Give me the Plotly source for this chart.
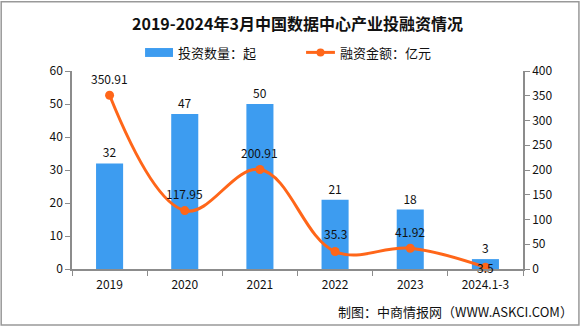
import plotly.graph_objects as go

categories = ["2019", "2020", "2021", "2022", "2023", "2024.1-3"]
deal_counts = [32, 47, 50, 21, 18, 3]
financing = [350.91, 117.95, 200.91, 35.3, 41.92, 3.5]
financing_labels = ["350.91", "117.95", "200.91", "35.3", "41.92", "3.5"]
left_ticks = [0, 10, 20, 30, 40, 50, 60]
right_ticks = [0, 50, 100, 150, 200, 250, 300, 350, 400]
bar_name = "投资数量：起"
line_name = "融资金额：亿元"

# label offsets in px (style, not data)
line_label_shift = [17, 17, 17, 18, 17, 0]

FONT = "Noto Sans CJK SC, DejaVu Sans, sans-serif"
BAR_C = "#3D9CF0"
LINE_C = "#FF6619"
AX_C = "#8c8c8c"

fig = go.Figure()
fig.add_trace(go.Bar(
    x=categories, y=deal_counts, name=bar_name,
    marker=dict(color=BAR_C, line=dict(width=0)), width=0.36,
    text=[str(v) for v in deal_counts], textposition="outside",
    textfont=dict(size=12, color="#111", family=FONT), cliponaxis=False,
))
fig.add_trace(go.Scatter(
    x=categories, y=financing, name=line_name, yaxis="y2",
    mode="lines+markers",
    line=dict(color=LINE_C, width=3, shape="spline", smoothing=1.1),
    marker=dict(color=LINE_C, size=9),
    cliponaxis=False,
))

for i, (v, lab, s) in enumerate(zip(financing, financing_labels, line_label_shift)):
    fig.add_annotation(x=i, y=v, xref="x", yref="y2", text=lab, showarrow=False,
                       yshift=s, font=dict(size=12, color="#111", family=FONT))

fig.add_annotation(text="<b>2019-2024年3月中国数据中心产业投融资情况</b>",
                   xref="paper", yref="paper", x=0.499, y=1.242, showarrow=False,
                   xanchor="center", yanchor="middle",
                   font=dict(size=16, color="#111", family=FONT))
fig.add_annotation(text="制图：中商情报网（WWW.ASKCI.COM）",
                   xref="paper", yref="paper", x=1.115, y=-0.217, showarrow=False,
                   xanchor="right", yanchor="middle",
                   font=dict(size=13, color="#111", family=FONT))

# manual legend
fig.add_shape(type="rect", xref="paper", yref="paper",
              x0=0.162, x1=0.224, y0=1.071, y1=1.116,
              fillcolor=BAR_C, line=dict(width=0))
fig.add_annotation(text=bar_name, xref="paper", yref="paper", x=0.231, y=1.094,
                   xanchor="left", yanchor="middle", showarrow=False,
                   font=dict(size=13, color="#111", family=FONT))
fig.add_shape(type="line", xref="paper", yref="paper",
              x0=0.519, x1=0.583, y0=1.094, y1=1.094,
              line=dict(color=LINE_C, width=3))
fig.add_shape(type="circle", xref="paper", yref="paper",
              x0=0.551 - 4 / 451, x1=0.551 + 4 / 451,
              y0=1.094 - 4 / 198, y1=1.094 + 4 / 198,
              fillcolor=LINE_C, line=dict(width=0))
fig.add_annotation(text=line_name, xref="paper", yref="paper", x=0.590, y=1.094,
                   xanchor="left", yanchor="middle", showarrow=False,
                   font=dict(size=13, color="#111", family=FONT))

fig.add_shape(type="rect", xref="paper", yref="paper",
              x0=-0.157, x1=1.124, y0=-0.283, y1=1.35,
              line=dict(color="#999", width=1.5), layer="below")

fig.update_layout(
    width=586, height=327,
    margin=dict(l=72, r=63, t=71, b=58),
    paper_bgcolor="white", plot_bgcolor="white",
    font=dict(family=FONT, size=12, color="#111"),
    showlegend=False,
    xaxis=dict(type="category", range=[-0.5, len(categories) - 0.5], showline=True,
               linecolor=AX_C, linewidth=1.5, ticks="outside",
               tickcolor=AX_C, ticklen=5, tickson="boundaries", showgrid=False,
               tickfont=dict(size=12), tickangle=0, ticklabelstandoff=4),
    yaxis=dict(range=[0, 60], tickvals=left_ticks, showline=True, linecolor=AX_C,
               linewidth=1.5, ticks="outside", tickcolor=AX_C, ticklen=5,
               showgrid=False, zeroline=False, tickfont=dict(size=12)),
    yaxis2=dict(range=[0, 400], tickvals=right_ticks, overlaying="y", side="right",
                showline=True, linecolor=AX_C, linewidth=1.5, ticks="outside",
                tickcolor=AX_C, ticklen=5, showgrid=False, zeroline=False,
                tickfont=dict(size=12)),
)

fig.write_html("out.html")
